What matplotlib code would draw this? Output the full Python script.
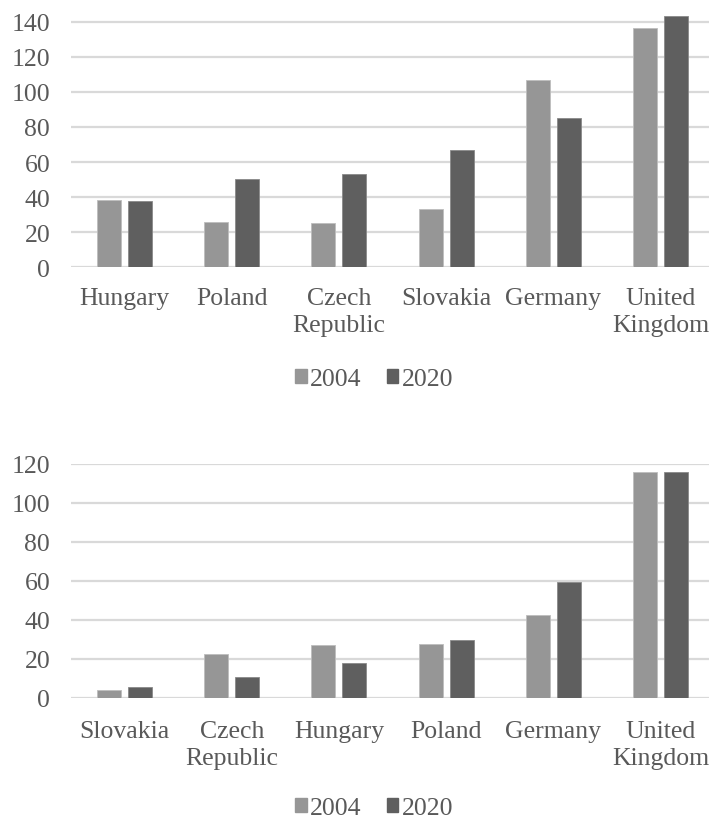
import matplotlib.pyplot as plt
from matplotlib.patches import Patch
import numpy as np

plt.rcParams['font.family'] = ['Liberation Serif', 'DejaVu Serif']

years = ["2004", "2020"]

top_countries = ["Hungary", "Poland", "Czech\nRepublic", "Slovakia", "Germany", "United\nKingdom"]
top_2004 = [38.4, 26.0, 25.1, 33.2, 106.6, 136.4]
top_2020 = [37.6, 50.2, 53.2, 67.0, 85.3, 143.1]

bottom_countries = ["Slovakia", "Czech\nRepublic", "Hungary", "Poland", "Germany", "United\nKingdom"]
bottom_2004 = [3.9, 22.4, 27.0, 27.7, 42.3, 115.6]
bottom_2020 = [5.3, 10.6, 17.8, 29.7, 59.5, 115.6]

light = "#969696"
dark = "#5f5f5f"
grid_c = "#d9d9d9"
text_c = "#595959"

W, H = 709, 820
fig = plt.figure(figsize=(W / 100, H / 100), dpi=100)


def draw(ax, cats, v1, v2, ymax, yticks, xpad):
    x = np.arange(len(cats))
    w = 0.224
    off = 0.145
    ax.bar(x - off, v1, w, color=light, edgecolor="#bdbdbd", linewidth=0.6, zorder=3)
    ax.bar(x + off, v2, w, color=dark, edgecolor="#8a8a8a", linewidth=0.6, zorder=3)
    ax.set_xlim(-0.5, len(cats) - 0.5)
    ax.set_ylim(0, ymax)
    ax.set_yticks(yticks)
    ax.set_yticklabels([str(t) for t in yticks])
    ax.set_xticks(x)
    ax.set_xticklabels(cats, linespacing=1.3)
    ax.tick_params(axis="y", length=0, pad=15, labelsize=18.5, labelcolor=text_c)
    ax.tick_params(axis="x", length=0, pad=xpad, labelsize=18.5, labelcolor=text_c)
    for s in ax.spines.values():
        s.set_visible(False)
    ax.yaxis.grid(True, color=grid_c, linewidth=1.6, zorder=0)
    ax.set_axisbelow(True)
    ax.patch.set_alpha(0)


left = 71 / W
width = (714 - 71) / W

ax1 = fig.add_axes([left, 1 - 268.3 / H, width, 268.3 / H])
draw(ax1, top_countries, top_2004, top_2020, 152.9, range(0, 141, 20), 14)

ax2 = fig.add_axes([left, 1 - 698.7 / H, width, (698.7 - 464.7) / H])
draw(ax2, bottom_countries, bottom_2004, bottom_2020, 120, range(0, 121, 20), 16)

handles = [Patch(color=light), Patch(color=dark)]
for ypix in (380, 809):
    fig.legend(handles, years, loc="center", bbox_to_anchor=(374 / W, 1 - ypix / H),
               ncol=2, frameon=False, fontsize=18.5, labelcolor=text_c,
               handlelength=0.45, handleheight=0.45, handletextpad=0.12,
               columnspacing=1.0)

fig.savefig("out.png", dpi=100)
